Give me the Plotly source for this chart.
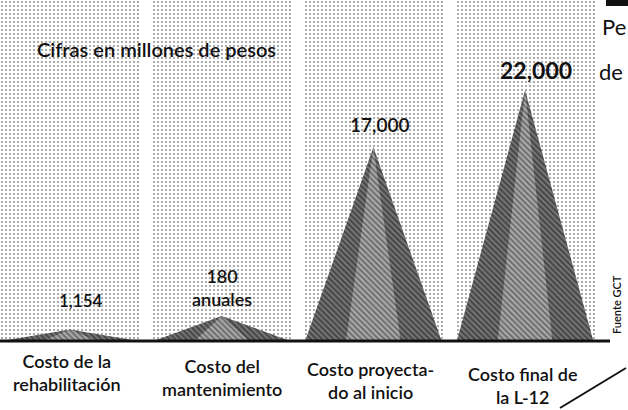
import plotly.graph_objects as go

# ---- data ----
categorias = ["Costo de la<br>rehabilitación", "Costo del<br>mantenimiento",
              "Costo proyecta-<br>do al inicio", "Costo final de<br>la L-12"]
valores = [1154, 180, 17000, 22000]            # millones de pesos (labels)
etiquetas = ["1,154", "180<br>anuales", "17,000", "<b>22,000</b>"]
alturas = [1000, 2200, 17000, 22000]           # drawn height
titulo = "Cifras en millones de pesos"
fuente = "Fuente GCT"

W, H = 628, 410
base_px = 341.0
px_per_unit = 11.4 / 1000.0
y_top = base_px / px_per_unit
y_bot = -(H - base_px) / px_per_unit
x_c0 = 70.0
x_step = 151.7
x_left = -x_c0 / x_step
x_right = (W - x_c0) / x_step

xs = list(range(len(categorias)))
hw = 0.45
inner = 0.18
FONT = "Lato"

fig = go.Figure()

# stippled background panels
fig.add_trace(go.Bar(
    x=xs, y=[y_top] * len(xs), width=0.925,
    marker=dict(color="white", line=dict(width=0),
                pattern=dict(shape=".", fgcolor="#222", bgcolor="#ffffff",
                             size=4, solidity=0.2)),
    hoverinfo="skip", showlegend=False))

# pyramid-like triangles
for i, h in zip(xs, alturas):
    fig.add_trace(go.Scatter(
        x=[i - hw, i, i + hw, i - hw], y=[0, h, 0, 0],
        mode="lines", fill="toself", line=dict(width=0, color="#222"),
        fillcolor="#444",
        fillpattern=dict(shape="\\", fgcolor="#111", bgcolor="#777",
                         size=4, solidity=0.5),
        hoverinfo="skip", showlegend=False))
    fig.add_trace(go.Scatter(
        x=[i - inner, i, i + inner, i - inner], y=[0, h, 0, 0],
        mode="lines", fill="toself", line=dict(width=0, color="#888"),
        fillcolor="#888",
        fillpattern=dict(shape="\\", fgcolor="#222", bgcolor="#a8a8a8",
                         size=4, solidity=0.4),
        hoverinfo="skip", showlegend=False))

# value labels (pixel heights)
lab_px = [300, 287, 124, 70]
sizes = [17, 18, 19, 23]
dxs = [0.07, 0.0, 0.04, 0.07]
for i, (t, p, s) in enumerate(zip(etiquetas, lab_px, sizes)):
    fig.add_annotation(x=xs[i] + dxs[i], y=(base_px - p) / px_per_unit,
                       text=t, showarrow=False, xanchor="center", yanchor="middle",
                       font=dict(family=FONT, size=s, color="#111", weight=600))

# category labels
cat_dx = [-0.02, 0.0, -0.02, -0.02]
cat_px = [372, 377, 380, 385]
for i, c in enumerate(categorias):
    fig.add_annotation(x=xs[i] + cat_dx[i], y=1 - cat_px[i] / H, yref="paper", text=c,
                       showarrow=False, align="center", xanchor="center",
                       yanchor="middle",
                       font=dict(family=FONT, size=18, color="#111", weight=600))

# baseline
fig.add_shape(type="line", xref="x", yref="y", x0=x_left, x1=(610 - x_c0) / x_step,
              y0=0, y1=0, line=dict(color="#111", width=3))

# title
fig.add_annotation(x=35 / W, y=1 - 49 / H, xref="paper", yref="paper", text=titulo,
                   showarrow=False, xanchor="left", yanchor="middle",
                   font=dict(family=FONT, size=20, color="#111", weight=600))

# source (rotated)
fig.add_annotation(x=616 / W, y=1 - 305 / H, xref="paper", yref="paper", text=fuente,
                   showarrow=False, textangle=-90, xanchor="center", yanchor="middle",
                   font=dict(family=FONT, size=11, color="#111", weight=600))

# neighbouring-article fragments
fig.add_annotation(x=600 / W, y=1 - 26 / H, xref="paper", yref="paper", text="Pe",
                   showarrow=False, xanchor="left", yanchor="middle",
                   font=dict(family=FONT, size=22, color="#111"))
fig.add_annotation(x=597 / W, y=1 - 72 / H, xref="paper", yref="paper", text="de",
                   showarrow=False, xanchor="left", yanchor="middle",
                   font=dict(family=FONT, size=22, color="#111"))
fig.add_shape(type="rect", xref="paper", yref="paper", x0=606 / W, x1=1.0,
              y0=1 - 6 / H, y1=1.0, fillcolor="#111", line=dict(width=0))
fig.add_shape(type="line", xref="paper", yref="paper", x0=560 / W, y0=1 - 408 / H,
              x1=626 / W, y1=1 - 368 / H, line=dict(color="#111", width=2))

fig.update_layout(
    width=W, height=H, margin=dict(l=0, r=0, t=0, b=0),
    paper_bgcolor="white", plot_bgcolor="white",
    xaxis=dict(range=[x_left, x_right], visible=False, fixedrange=True),
    yaxis=dict(range=[y_bot, y_top], visible=False, fixedrange=True),
    bargap=0, showlegend=False,
)

fig.write_html("out.html", config={"displayModeBar": False},
               post_script="document.body.style.margin='0';")
